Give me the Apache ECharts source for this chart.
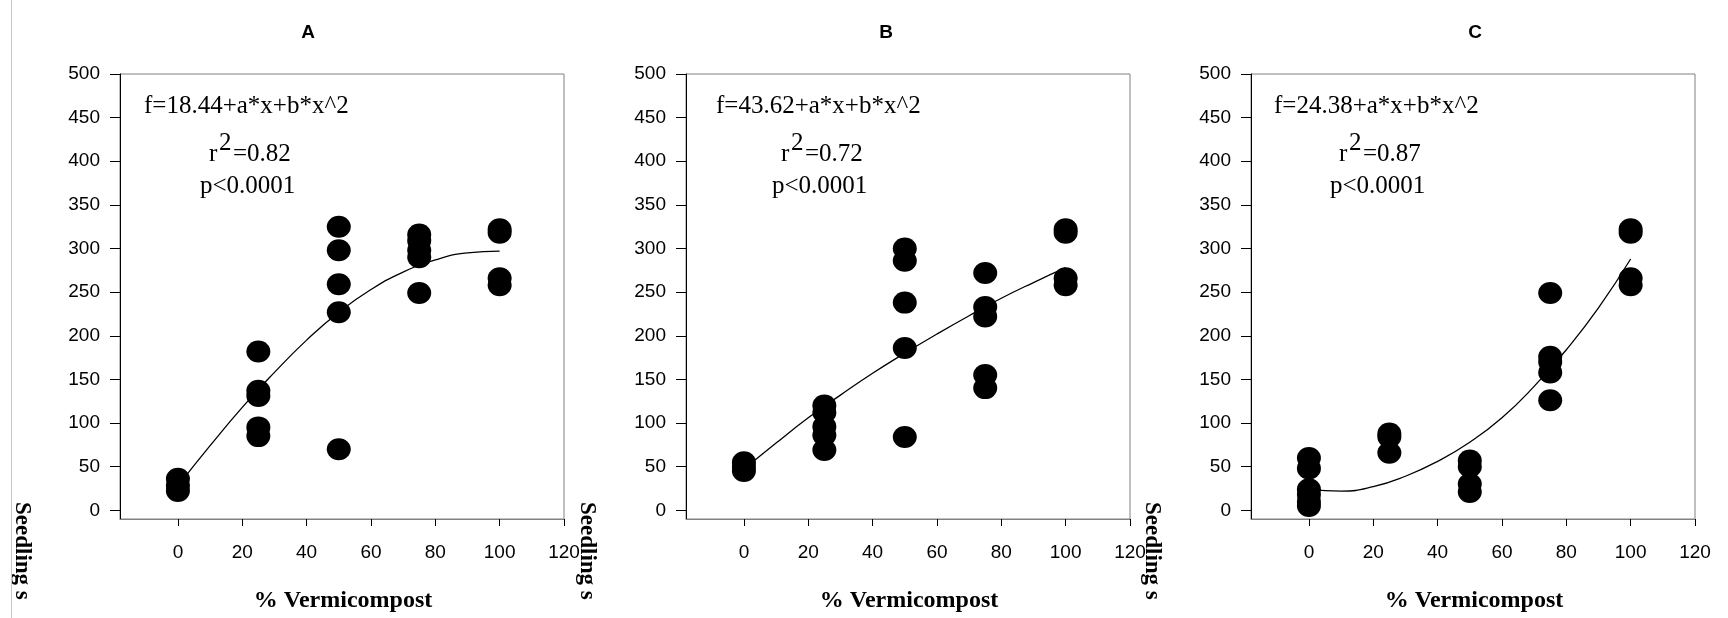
<!DOCTYPE html>
<html>
<head>
<meta charset="utf-8">
<script src="https://cdn.jsdelivr.net/npm/echarts@6.0.0/dist/echarts.min.js"></script>
<style>
  html, body { margin: 0; padding: 0; background: #fff; }
  #chart { width: 1728px; height: 618px; }
</style>
</head>
<body>
<div id="chart"></div>
<script>
// % vermicompost levels
const pctVermicompost = [0, 25, 50, 75, 100]

// seedlings per level
const seedlingsA = [[36, 28, 22], [182, 137, 131, 95, 85], [325, 298, 259, 227, 70], [316, 309, 298, 290, 249], [322, 318, 266, 258]]
const seedlingsB = [[55, 50, 45], [120, 112, 96, 86, 69], [300, 286, 238, 186, 84], [272, 233, 222, 155, 140], [322, 318, 266, 258]]
const seedlingsC = [[60, 48, 24, 18, 10, 5], [88, 84, 66], [57, 50, 30, 21], [249, 176, 170, 158, 126], [322, 318, 266, 258]]

// fitted curves
const fitX = [0, 10, 20, 30, 40, 50, 60, 70, 80, 90, 100]
const fitA = [28, 74, 118, 158, 195, 227, 253, 273, 287, 295, 297]
const fitB = [47, 77, 106, 132, 157, 180, 202, 223, 243, 261, 278]
const fitC = [24, 22, 27, 39, 56, 78, 106, 142, 184, 232, 288]

// ticks
const xTicks = [0, 20, 40, 60, 80, 100, 120]
const yTicks = [0, 50, 100, 150, 200, 250, 300, 350, 400, 450, 500]

// texts
const panelTitles = ['A', 'B', 'C']
const intercepts = ['18.44', '43.62', '24.38']
const rSquared = ['0.82', '0.72', '0.87']
const pText = 'p<0.0001'

const SANS = "'Liberation Sans', Arial, sans-serif"
const SERIF = "'Liberation Serif', 'Times New Roman', serif"

const chart = echarts.init(document.getElementById('chart'))

// layout
const panelLeft = [120, 686, 1251]
const panelTop = 74
const panelW = 444
const panelH = 445
const titleX = [308, 886, 1475]
const eqOff = [24, 30, 23]
const rOff = [89, 95, 88]
const pOff = [80, 86, 79]
const yNameX = [22, 587, 1152]

const allSeedlings = [seedlingsA, seedlingsB, seedlingsC]
const allFits = [fitA, fitB, fitC]

const grids = []
const xAxes = []
const yAxes = []
const series = []
const graphics = []

panelLeft.forEach((left, i) => {
  grids.push({
    left: left,
    top: panelTop,
    width: panelW,
    height: panelH,
    show: true,
    borderColor: '#808080',
    borderWidth: 1,
    backgroundColor: 'transparent',
    containLabel: false,
    outerBoundsMode: 'none'
  })

  xAxes.push({
    type: 'value',
    gridIndex: i,
    min: -18,
    max: 120,
    axisLine: { show: true, onZero: false, lineStyle: { color: '#808080', width: 1 } },
    axisTick: { show: true, length: 7, customValues: xTicks, lineStyle: { color: '#000' } },
    axisLabel: { customValues: xTicks, margin: 24, fontSize: 19, color: '#000', fontFamily: SANS },
    splitLine: { show: false }
  })

  yAxes.push({
    type: 'value',
    gridIndex: i,
    min: -10,
    max: 500,
    axisLine: { show: true, onZero: false, lineStyle: { color: '#000', width: 1 } },
    axisTick: { show: true, length: 10, customValues: yTicks, lineStyle: { color: '#000' } },
    axisLabel: { customValues: yTicks, margin: 20, fontSize: 19, color: '#000', fontFamily: SANS },
    splitLine: { show: false }
  })

  const pts = pctVermicompost.flatMap((x, k) => allSeedlings[i][k].map(v => [x, v]))
  series.push({
    type: 'scatter',
    xAxisIndex: i,
    yAxisIndex: i,
    symbol: 'circle',
    symbolSize: [24, 22],
    itemStyle: { color: '#000', opacity: 1 },
    data: pts,
    z: 3
  })

  series.push({
    type: 'line',
    xAxisIndex: i,
    yAxisIndex: i,
    smooth: true,
    symbol: 'none',
    lineStyle: { color: '#000', width: 1.3 },
    data: fitX.map((x, k) => [x, allFits[i][k]]),
    z: 4
  })

  // panel title
  graphics.push({
    type: 'text', x: titleX[i], y: 33,
    style: { text: panelTitles[i], fill: '#000', font: 'bold 19px ' + SANS, align: 'center', verticalAlign: 'middle' }
  })
  // equation block
  graphics.push({
    type: 'text', x: left + eqOff[i], y: 106,
    style: { text: 'f=' + intercepts[i] + '+a*x+b*x^2', fill: '#000', font: '25px ' + SERIF, align: 'left', verticalAlign: 'middle' }
  })
  graphics.push({
    type: 'text', x: left + rOff[i], y: 154,
    style: { text: 'r', fill: '#000', font: '25px ' + SERIF, align: 'left', verticalAlign: 'middle' }
  })
  graphics.push({
    type: 'text', x: left + rOff[i] + 10, y: 143,
    style: { text: '2', fill: '#000', font: '25px ' + SERIF, align: 'left', verticalAlign: 'middle' }
  })
  graphics.push({
    type: 'text', x: left + rOff[i] + 24, y: 154,
    style: { text: '=' + rSquared[i], fill: '#000', font: '25px ' + SERIF, align: 'left', verticalAlign: 'middle' }
  })
  graphics.push({
    type: 'text', x: left + pOff[i], y: 186,
    style: { text: pText, fill: '#000', font: '25px ' + SERIF, align: 'left', verticalAlign: 'middle' }
  })
  // x axis name
  graphics.push({
    type: 'text', x: left + panelW / 2 + 1, y: 601,
    style: { text: '% Vermicompost', fill: '#000', font: 'bold 24px ' + SERIF, align: 'center', verticalAlign: 'middle' }
  })
  // y axis name, rotated, cut at the bottom
  graphics.push({
    type: 'text', x: yNameX[i], y: 502, rotation: -Math.PI / 2,
    style: { text: 'Seedling s', fill: '#000', font: 'bold 23px ' + SERIF, align: 'left', verticalAlign: 'middle' }
  })
})

// thin frame line at the left edge
graphics.push({
  type: 'line',
  shape: { x1: 11.5, y1: 0, x2: 11.5, y2: 618 },
  style: { stroke: '#c8c8c8', lineWidth: 1 }
})

chart.setOption({
  animation: false,
  backgroundColor: '#fff',
  grid: grids,
  xAxis: xAxes,
  yAxis: yAxes,
  series: series,
  graphic: graphics
})
</script>
</body>
</html>
